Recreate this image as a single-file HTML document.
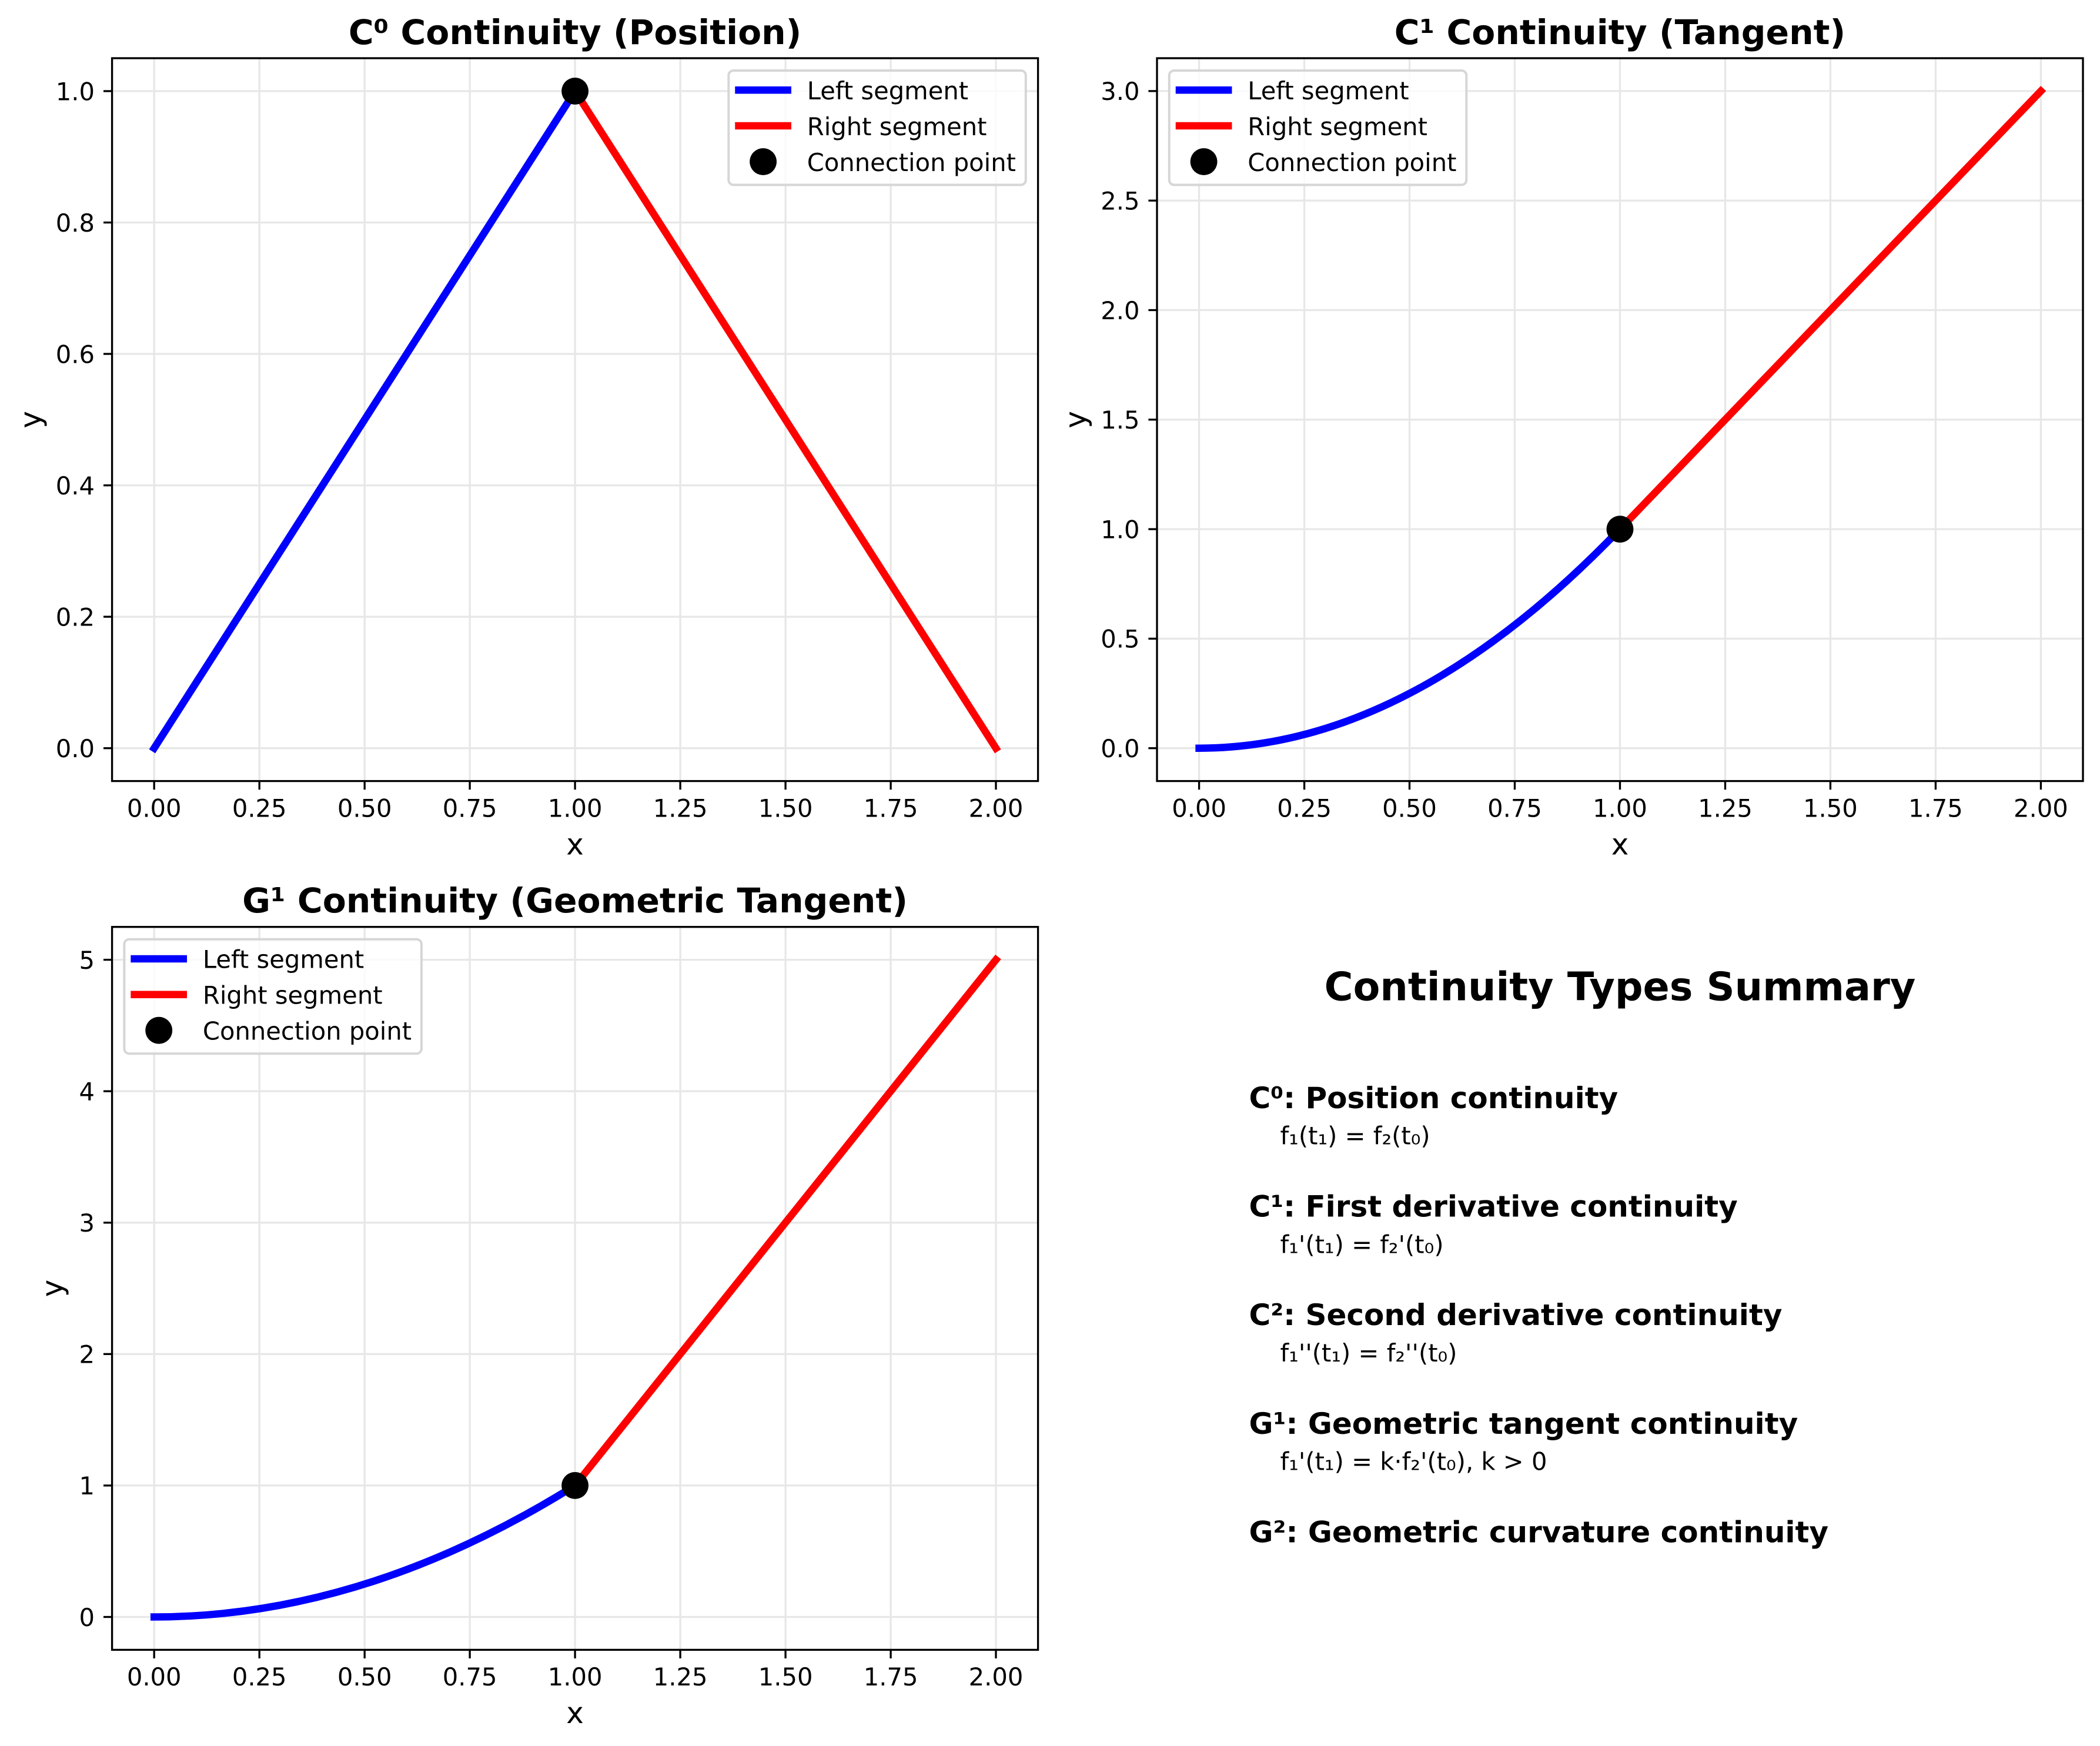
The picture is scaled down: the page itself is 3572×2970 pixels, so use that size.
<!DOCTYPE html>
<html>
<head>
<meta charset="utf-8">
<style>
  html, body { margin: 0; padding: 0; background: #ffffff; }
  svg { display: block; }
  text { font-family: "DejaVu Sans", "Liberation Sans", sans-serif; fill: #000; }
  .tick { font-size: 41.67px; }
  .lab { font-size: 50px; }
  .ttl { font-size: 58.33px; font-weight: bold; }
  .leg { font-size: 41.67px; }
  .grid { stroke: #e7e7e7; stroke-width: 3.3; }
  .tk { stroke: #000; stroke-width: 3.33; }
  .spine { fill: none; stroke: #000; stroke-width: 3.33; stroke-linejoin: miter; }
  .blue { fill: none; stroke: #0000ff; stroke-width: 12.5; stroke-linecap: square; stroke-linejoin: round; }
  .red { fill: none; stroke: #ff0000; stroke-width: 12.5; stroke-linecap: square; stroke-linejoin: round; }
  .legframe { fill: #ffffff; fill-opacity: 0.8; stroke: #d6d6d6; stroke-width: 4; }
  .sumh { font-size: 50px; font-weight: bold; }
  .sumf { font-size: 41.67px; }
  .sumt { font-size: 66.67px; font-weight: bold; }
</style>
</head>
<body>
<svg xmlns="http://www.w3.org/2000/svg" width="3572" height="2970" viewBox="0 0 3572 2970">
  <rect x="0" y="0" width="3572" height="2970" fill="#ffffff"/>

  <!-- ================= Axes A (top-left) ================= -->
  <g>
    <!-- grid -->
    <g class="grid">
      <line x1="262.2" y1="99" x2="262.2" y2="1328.6"/>
      <line x1="441.2" y1="99" x2="441.2" y2="1328.6"/>
      <line x1="620.2" y1="99" x2="620.2" y2="1328.6"/>
      <line x1="799.1" y1="99" x2="799.1" y2="1328.6"/>
      <line x1="978.1" y1="99" x2="978.1" y2="1328.6"/>
      <line x1="1157.1" y1="99" x2="1157.1" y2="1328.6"/>
      <line x1="1336.1" y1="99" x2="1336.1" y2="1328.6"/>
      <line x1="1515.1" y1="99" x2="1515.1" y2="1328.6"/>
      <line x1="1694.0" y1="99" x2="1694.0" y2="1328.6"/>
      <line x1="190.6" y1="1272.7" x2="1765.6" y2="1272.7"/>
      <line x1="190.6" y1="1049.1" x2="1765.6" y2="1049.1"/>
      <line x1="190.6" y1="825.6" x2="1765.6" y2="825.6"/>
      <line x1="190.6" y1="602.0" x2="1765.6" y2="602.0"/>
      <line x1="190.6" y1="378.5" x2="1765.6" y2="378.5"/>
      <line x1="190.6" y1="155.0" x2="1765.6" y2="155.0"/>
    </g>
    <!-- data -->
    <line class="blue" x1="262.2" y1="1272.7" x2="978.1" y2="155.0"/>
    <line class="red" x1="978.1" y1="155.0" x2="1694.0" y2="1272.7"/>
    <circle cx="978.1" cy="155.0" r="22.9" fill="#000"/>
    <!-- spines -->
    <rect class="spine" x="190.6" y="99" width="1575" height="1229.6"/>
    <!-- ticks -->
    <g class="tk">
      <line x1="262.2" y1="1328.6" x2="262.2" y2="1343.2"/>
      <line x1="441.2" y1="1328.6" x2="441.2" y2="1343.2"/>
      <line x1="620.2" y1="1328.6" x2="620.2" y2="1343.2"/>
      <line x1="799.1" y1="1328.6" x2="799.1" y2="1343.2"/>
      <line x1="978.1" y1="1328.6" x2="978.1" y2="1343.2"/>
      <line x1="1157.1" y1="1328.6" x2="1157.1" y2="1343.2"/>
      <line x1="1336.1" y1="1328.6" x2="1336.1" y2="1343.2"/>
      <line x1="1515.1" y1="1328.6" x2="1515.1" y2="1343.2"/>
      <line x1="1694.0" y1="1328.6" x2="1694.0" y2="1343.2"/>
      <line x1="176" y1="1272.7" x2="190.6" y2="1272.7"/>
      <line x1="176" y1="1049.1" x2="190.6" y2="1049.1"/>
      <line x1="176" y1="825.6" x2="190.6" y2="825.6"/>
      <line x1="176" y1="602.0" x2="190.6" y2="602.0"/>
      <line x1="176" y1="378.5" x2="190.6" y2="378.5"/>
      <line x1="176" y1="155.0" x2="190.6" y2="155.0"/>
    </g>
    <!-- tick labels -->
    <g class="tick" text-anchor="middle">
      <text x="262.2" y="1389.3">0.00</text>
      <text x="441.2" y="1389.3">0.25</text>
      <text x="620.2" y="1389.3">0.50</text>
      <text x="799.1" y="1389.3">0.75</text>
      <text x="978.1" y="1389.3">1.00</text>
      <text x="1157.1" y="1389.3">1.25</text>
      <text x="1336.1" y="1389.3">1.50</text>
      <text x="1515.1" y="1389.3">1.75</text>
      <text x="1694.0" y="1389.3">2.00</text>
    </g>
    <g class="tick" text-anchor="end">
      <text x="161" y="1288">0.0</text>
      <text x="161" y="1064.4">0.2</text>
      <text x="161" y="840.9">0.4</text>
      <text x="161" y="617.3">0.6</text>
      <text x="161" y="393.8">0.8</text>
      <text x="161" y="170.3">1.0</text>
    </g>
    <text class="lab" x="978.1" y="1453.3" text-anchor="middle">x</text>
    <text class="lab" transform="translate(69,713.8) rotate(-90)" text-anchor="middle">y</text>
    <text class="ttl" x="978.1" y="75" text-anchor="middle">C⁰ Continuity (Position)</text>
    <!-- legend -->
    <g transform="translate(1239.3,120)">
      <rect class="legframe" x="0" y="0" width="505.5" height="194.5" rx="8.3" ry="8.3"/>
      <line class="blue" x1="17.2" y1="33.3" x2="100.4" y2="33.3"/>
      <line class="red" x1="17.2" y1="94" x2="100.4" y2="94"/>
      <circle cx="58.8" cy="155" r="22.9" fill="#000"/>
      <text class="leg" x="133.5" y="49">Left segment</text>
      <text class="leg" x="133.5" y="110">Right segment</text>
      <text class="leg" x="133.5" y="171">Connection point</text>
    </g>
  </g>

  <!-- ================= Axes B (top-right) ================= -->
  <g>
    <g class="grid">
      <line x1="2039.6" y1="99" x2="2039.6" y2="1328.6"/>
      <line x1="2218.6" y1="99" x2="2218.6" y2="1328.6"/>
      <line x1="2397.5" y1="99" x2="2397.5" y2="1328.6"/>
      <line x1="2576.5" y1="99" x2="2576.5" y2="1328.6"/>
      <line x1="2755.5" y1="99" x2="2755.5" y2="1328.6"/>
      <line x1="2934.5" y1="99" x2="2934.5" y2="1328.6"/>
      <line x1="3113.4" y1="99" x2="3113.4" y2="1328.6"/>
      <line x1="3292.4" y1="99" x2="3292.4" y2="1328.6"/>
      <line x1="3471.4" y1="99" x2="3471.4" y2="1328.6"/>
      <line x1="1968" y1="1272.7" x2="3543" y2="1272.7"/>
      <line x1="1968" y1="1086.4" x2="3543" y2="1086.4"/>
      <line x1="1968" y1="900.1" x2="3543" y2="900.1"/>
      <line x1="1968" y1="713.8" x2="3543" y2="713.8"/>
      <line x1="1968" y1="527.5" x2="3543" y2="527.5"/>
      <line x1="1968" y1="341.2" x2="3543" y2="341.2"/>
      <line x1="1968" y1="154.9" x2="3543" y2="154.9"/>
    </g>
    <path class="blue" d="M2039.6,1272.7 Q2397.5,1272.7 2755.5,900.1"/>
    <line class="red" x1="2755.5" y1="900.1" x2="3471.4" y2="154.9"/>
    <circle cx="2755.5" cy="900.1" r="22.9" fill="#000"/>
    <rect class="spine" x="1968" y="99" width="1575" height="1229.6"/>
    <g class="tk">
      <line x1="2039.6" y1="1328.6" x2="2039.6" y2="1343.2"/>
      <line x1="2218.6" y1="1328.6" x2="2218.6" y2="1343.2"/>
      <line x1="2397.5" y1="1328.6" x2="2397.5" y2="1343.2"/>
      <line x1="2576.5" y1="1328.6" x2="2576.5" y2="1343.2"/>
      <line x1="2755.5" y1="1328.6" x2="2755.5" y2="1343.2"/>
      <line x1="2934.5" y1="1328.6" x2="2934.5" y2="1343.2"/>
      <line x1="3113.4" y1="1328.6" x2="3113.4" y2="1343.2"/>
      <line x1="3292.4" y1="1328.6" x2="3292.4" y2="1343.2"/>
      <line x1="3471.4" y1="1328.6" x2="3471.4" y2="1343.2"/>
      <line x1="1953.4" y1="1272.7" x2="1968" y2="1272.7"/>
      <line x1="1953.4" y1="1086.4" x2="1968" y2="1086.4"/>
      <line x1="1953.4" y1="900.1" x2="1968" y2="900.1"/>
      <line x1="1953.4" y1="713.8" x2="1968" y2="713.8"/>
      <line x1="1953.4" y1="527.5" x2="1968" y2="527.5"/>
      <line x1="1953.4" y1="341.2" x2="1968" y2="341.2"/>
      <line x1="1953.4" y1="154.9" x2="1968" y2="154.9"/>
    </g>
    <g class="tick" text-anchor="middle">
      <text x="2039.6" y="1389.3">0.00</text>
      <text x="2218.6" y="1389.3">0.25</text>
      <text x="2397.5" y="1389.3">0.50</text>
      <text x="2576.5" y="1389.3">0.75</text>
      <text x="2755.5" y="1389.3">1.00</text>
      <text x="2934.5" y="1389.3">1.25</text>
      <text x="3113.4" y="1389.3">1.50</text>
      <text x="3292.4" y="1389.3">1.75</text>
      <text x="3471.4" y="1389.3">2.00</text>
    </g>
    <g class="tick" text-anchor="end">
      <text x="1938.5" y="1288">0.0</text>
      <text x="1938.5" y="1101.7">0.5</text>
      <text x="1938.5" y="915.4">1.0</text>
      <text x="1938.5" y="729.1">1.5</text>
      <text x="1938.5" y="542.8">2.0</text>
      <text x="1938.5" y="356.5">2.5</text>
      <text x="1938.5" y="170.2">3.0</text>
    </g>
    <text class="lab" x="2755.5" y="1453.3" text-anchor="middle">x</text>
    <text class="lab" transform="translate(1846.5,713.8) rotate(-90)" text-anchor="middle">y</text>
    <text class="ttl" x="2755.5" y="75" text-anchor="middle">C¹ Continuity (Tangent)</text>
    <g transform="translate(1988.8,120)">
      <rect class="legframe" x="0" y="0" width="505.5" height="194.5" rx="8.3" ry="8.3"/>
      <line class="blue" x1="17.2" y1="33.3" x2="100.4" y2="33.3"/>
      <line class="red" x1="17.2" y1="94" x2="100.4" y2="94"/>
      <circle cx="58.8" cy="155" r="22.9" fill="#000"/>
      <text class="leg" x="133.5" y="49">Left segment</text>
      <text class="leg" x="133.5" y="110">Right segment</text>
      <text class="leg" x="133.5" y="171">Connection point</text>
    </g>
  </g>

  <!-- ================= Axes C (bottom-left) ================= -->
  <g>
    <g class="grid">
      <line x1="262.2" y1="1576.7" x2="262.2" y2="2806.4"/>
      <line x1="441.2" y1="1576.7" x2="441.2" y2="2806.4"/>
      <line x1="620.2" y1="1576.7" x2="620.2" y2="2806.4"/>
      <line x1="799.1" y1="1576.7" x2="799.1" y2="2806.4"/>
      <line x1="978.1" y1="1576.7" x2="978.1" y2="2806.4"/>
      <line x1="1157.1" y1="1576.7" x2="1157.1" y2="2806.4"/>
      <line x1="1336.1" y1="1576.7" x2="1336.1" y2="2806.4"/>
      <line x1="1515.1" y1="1576.7" x2="1515.1" y2="2806.4"/>
      <line x1="1694.0" y1="1576.7" x2="1694.0" y2="2806.4"/>
      <line x1="190.6" y1="2750.5" x2="1765.6" y2="2750.5"/>
      <line x1="190.6" y1="2526.9" x2="1765.6" y2="2526.9"/>
      <line x1="190.6" y1="2303.3" x2="1765.6" y2="2303.3"/>
      <line x1="190.6" y1="2079.8" x2="1765.6" y2="2079.8"/>
      <line x1="190.6" y1="1856.2" x2="1765.6" y2="1856.2"/>
      <line x1="190.6" y1="1632.6" x2="1765.6" y2="1632.6"/>
    </g>
    <path class="blue" d="M262.2,2750.5 Q620.2,2750.5 978.1,2526.9"/>
    <line class="red" x1="978.1" y1="2526.9" x2="1694.0" y2="1632.6"/>
    <circle cx="978.1" cy="2526.9" r="22.9" fill="#000"/>
    <rect class="spine" x="190.6" y="1576.7" width="1575" height="1229.7"/>
    <g class="tk">
      <line x1="262.2" y1="2806.4" x2="262.2" y2="2821"/>
      <line x1="441.2" y1="2806.4" x2="441.2" y2="2821"/>
      <line x1="620.2" y1="2806.4" x2="620.2" y2="2821"/>
      <line x1="799.1" y1="2806.4" x2="799.1" y2="2821"/>
      <line x1="978.1" y1="2806.4" x2="978.1" y2="2821"/>
      <line x1="1157.1" y1="2806.4" x2="1157.1" y2="2821"/>
      <line x1="1336.1" y1="2806.4" x2="1336.1" y2="2821"/>
      <line x1="1515.1" y1="2806.4" x2="1515.1" y2="2821"/>
      <line x1="1694.0" y1="2806.4" x2="1694.0" y2="2821"/>
      <line x1="176" y1="2750.5" x2="190.6" y2="2750.5"/>
      <line x1="176" y1="2526.9" x2="190.6" y2="2526.9"/>
      <line x1="176" y1="2303.3" x2="190.6" y2="2303.3"/>
      <line x1="176" y1="2079.8" x2="190.6" y2="2079.8"/>
      <line x1="176" y1="1856.2" x2="190.6" y2="1856.2"/>
      <line x1="176" y1="1632.6" x2="190.6" y2="1632.6"/>
    </g>
    <g class="tick" text-anchor="middle">
      <text x="262.2" y="2867">0.00</text>
      <text x="441.2" y="2867">0.25</text>
      <text x="620.2" y="2867">0.50</text>
      <text x="799.1" y="2867">0.75</text>
      <text x="978.1" y="2867">1.00</text>
      <text x="1157.1" y="2867">1.25</text>
      <text x="1336.1" y="2867">1.50</text>
      <text x="1515.1" y="2867">1.75</text>
      <text x="1694.0" y="2867">2.00</text>
    </g>
    <g class="tick" text-anchor="end">
      <text x="161" y="2765.8">0</text>
      <text x="161" y="2542.2">1</text>
      <text x="161" y="2318.6">2</text>
      <text x="161" y="2095.1">3</text>
      <text x="161" y="1871.5">4</text>
      <text x="161" y="1647.9">5</text>
    </g>
    <text class="lab" x="978.1" y="2931" text-anchor="middle">x</text>
    <text class="lab" transform="translate(106,2191.5) rotate(-90)" text-anchor="middle">y</text>
    <text class="ttl" x="978.1" y="1552.2" text-anchor="middle">G¹ Continuity (Geometric Tangent)</text>
    <g transform="translate(211.4,1597.7)">
      <rect class="legframe" x="0" y="0" width="505.5" height="194.5" rx="8.3" ry="8.3"/>
      <line class="blue" x1="17.2" y1="33.3" x2="100.4" y2="33.3"/>
      <line class="red" x1="17.2" y1="94" x2="100.4" y2="94"/>
      <circle cx="58.8" cy="155" r="22.9" fill="#000"/>
      <text class="leg" x="133.5" y="49">Left segment</text>
      <text class="leg" x="133.5" y="110">Right segment</text>
      <text class="leg" x="133.5" y="171">Connection point</text>
    </g>
  </g>

  <!-- ================= Summary (bottom-right) ================= -->
  <g>
    <text class="sumt" x="2755.5" y="1701.7" text-anchor="middle">Continuity Types Summary</text>
    <text class="sumh" x="2124.5" y="1885">C⁰: Position continuity</text>
    <text class="sumf" x="2177.5" y="1946.7">f₁(t₁) = f₂(t₀)</text>
    <text class="sumh" x="2124.5" y="2069.6">C¹: First derivative continuity</text>
    <text class="sumf" x="2177.5" y="2131.3">f₁'(t₁) = f₂'(t₀)</text>
    <text class="sumh" x="2124.5" y="2254.2">C²: Second derivative continuity</text>
    <text class="sumf" x="2177.5" y="2315.9">f₁''(t₁) = f₂''(t₀)</text>
    <text class="sumh" x="2124.5" y="2438.8">G¹: Geometric tangent continuity</text>
    <text class="sumf" x="2177.5" y="2500.5">f₁'(t₁) = k·f₂'(t₀), k &gt; 0</text>
    <text class="sumh" x="2124.5" y="2623.4">G²: Geometric curvature continuity</text>
  </g>
</svg>
</body>
</html>
